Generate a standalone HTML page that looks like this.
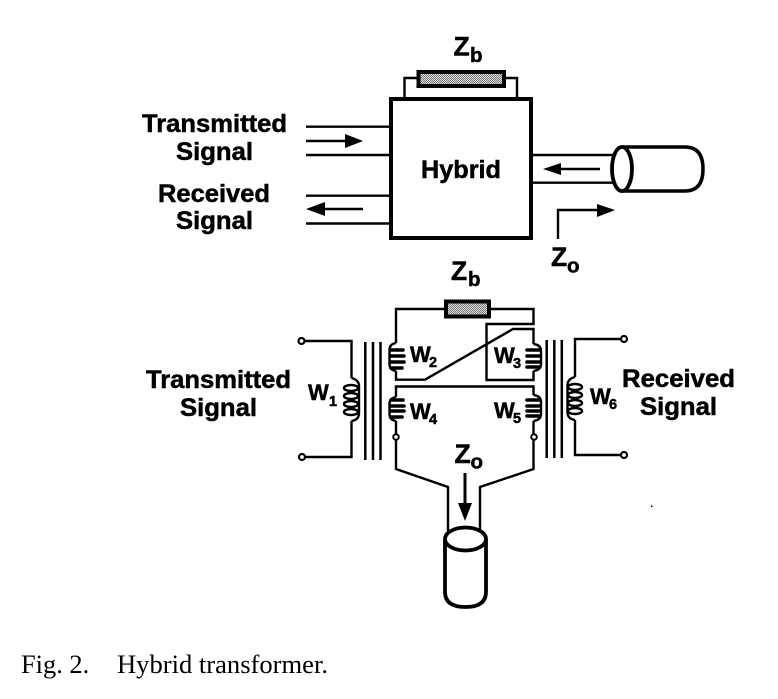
<!DOCTYPE html>
<html>
<head>
<meta charset="utf-8">
<style>
html,body{margin:0;padding:0;background:#fff;}
svg{display:block;}
.t{font-family:"Liberation Sans",sans-serif;font-weight:bold;fill:#000;stroke:#000;stroke-width:.5px;}
.l{font-size:25.3px;}
.z{font-size:26.5px;}
.s{font-size:20.5px;}
.w{font-size:22px;}
.n{font-size:14.5px;}
.c{font-family:"Liberation Serif",serif;font-size:26.4px;fill:#000;}
</style>
</head>
<body>
<svg width="778" height="699" viewBox="0 0 778 699" xmlns="http://www.w3.org/2000/svg">
<defs>
<pattern id="d" width="2" height="2" patternUnits="userSpaceOnUse"><rect width="2" height="2" fill="#ddd"/><rect width="1" height="1" fill="#777"/><rect x="1" y="1" width="1" height="1" fill="#777"/></pattern>
</defs>
<rect width="778" height="699" fill="#fff"/>
<g fill="none" stroke="#000" stroke-width="2.400">
<!-- Top hybrid -->
<rect x="391" y="99" width="140" height="139" stroke-width="4"/>
<path d="M404.500 99V78H418M504 78H517V99"/>
<rect x="418.500" y="72" width="85.500" height="14" fill="url(#d)" stroke-width="4"/>
<path d="M306 126.700H390M306 155H390M306 195.700H390M306 223.500H390"/>
<path d="M306 141H348M325 209H363"/>
<path d="M532 155H614M532 182.700H614M561 169H600"/>
<path d="M622 147H685Q703 147 703 169Q703 191 685 191H622" stroke-width="3.500"/>
<ellipse cx="622" cy="169" rx="10" ry="22" fill="#fff" stroke-width="3.800"/>
<path d="M558 239V210H600"/>
<!-- resistor lower -->
<path d="M396 343V309H446M488 309H533.500V324H486.500V380H533.500V371M533.500 344V329H513L425 379.700H396V371"/>
<rect x="446" y="301.500" width="43" height="15" fill="url(#d)" stroke-width="4"/>
<!-- W1 -->
<path d="M304 341H351.500V378M351.500 421V457H305"/>
<path d="M351.500 378Q359 380 359 386V413Q359 420 351.500 421"/>
<g stroke-width="2.500"><ellipse cx="351" cy="388" rx="7" ry="3"/><ellipse cx="351" cy="396" rx="7" ry="3"/><ellipse cx="351" cy="404" rx="7" ry="3"/><ellipse cx="351" cy="412" rx="7" ry="3"/></g>
<!-- core left/right -->
<path d="M365.300 342V460M373 342V460M380.500 342V460M546.700 340V458M554.300 340V458M561.800 340V458" stroke-width="2.500"/>
<!-- W2 arc -->
<path d="M396 343Q389.500 344 389.500 350V364Q389.500 370 396 371"/>
<g stroke-width="3.600" stroke-linecap="round"><path d="M391 350H403M391 356H404M391 362H404M391 368H402"/></g>
<!-- W3 arc -->
<path d="M533.500 344Q541 345 541 351V364Q541 370 533.500 371"/>
<g stroke-width="3.600" stroke-linecap="round"><path d="M527 350H539M527 356H539M527 362H539M527 367H539"/></g>
<!-- W4 -->
<path d="M396 397V386.500H533.500V395"/>
<path d="M396 397Q389.500 398 389.500 404V414Q389.500 420 396 421"/>
<g stroke-width="3.600" stroke-linecap="round"><path d="M391 400H403M391 406H404M391 411H404M391 417H402"/></g>
<path d="M396 421V434M396 440V469L448 487V531"/>
<!-- W5 -->
<path d="M533.500 395Q541 396 541 402V414Q541 420 533.500 421"/>
<g stroke-width="3.600" stroke-linecap="round"><path d="M527 400H539M527 406H539M527 411H539M527 416H539"/></g>
<path d="M533.500 421V434M533.500 440V469L480 487V531"/>
<circle cx="396" cy="437" r="2.800" stroke-width="2"/>
<circle cx="534" cy="437" r="2.800" stroke-width="2"/>
<!-- W6 -->
<path d="M621 339H575V377M575 420V455H621"/>
<path d="M575 377Q567.500 379 567.500 385V412Q567.500 419 575 420"/>
<g stroke-width="2.500"><ellipse cx="575" cy="387" rx="7" ry="3"/><ellipse cx="575" cy="395" rx="7" ry="3"/><ellipse cx="575" cy="403" rx="7" ry="3"/><ellipse cx="575" cy="411" rx="7" ry="3"/></g>
<circle cx="301.500" cy="341" r="3" stroke-width="2.200"/>
<circle cx="302" cy="457" r="3" stroke-width="2.200"/>
<circle cx="624" cy="339" r="3" stroke-width="2.200"/>
<circle cx="624" cy="455" r="3" stroke-width="2.200"/>
<!-- bottom cylinder -->
<path d="M445 539V592Q445 607 465.500 607Q486 607 486 592V539" stroke-width="3.800"/>
<ellipse cx="465.500" cy="539" rx="20.500" ry="11.500" fill="#fff" stroke-width="3.800"/>
<path d="M465 473V508" stroke-width="3"/>
</g>
<g fill="#000">
<path d="M363 141L345 134V148Z"/>
<path d="M306 209L325 202V216Z"/>
<path d="M543 169L561 163V175Z"/>
<path d="M615 210L597 204V217Z"/>
<path d="M465 521L458 503H472Z"/>
<rect x="651" y="505.500" width="1.500" height="1.500"/>
</g>
<g class="t">
<text class="l" x="142" y="132" textLength="145" lengthAdjust="spacingAndGlyphs">Transmitted</text>
<text class="l" x="176" y="160" textLength="77" lengthAdjust="spacingAndGlyphs">Signal</text>
<text class="l" x="158" y="202" textLength="112" lengthAdjust="spacingAndGlyphs">Received</text>
<text class="l" x="176" y="229" textLength="77" lengthAdjust="spacingAndGlyphs">Signal</text>
<text class="l" x="421" y="178" textLength="80" lengthAdjust="spacingAndGlyphs">Hybrid</text>
<text class="z" x="453.500" y="55.500">Z</text>
<text class="s" x="470" y="62">b</text>
<text class="z" x="551" y="266">Z</text>
<text class="s" x="567" y="272.500">o</text>
<text class="z" x="451" y="280">Z</text>
<text class="s" x="468" y="286">b</text>
<text class="z" x="454.500" y="463">Z</text>
<text class="s" x="470.500" y="468.500">o</text>
<text class="l" x="146" y="388" textLength="145" lengthAdjust="spacingAndGlyphs">Transmitted</text>
<text class="l" x="180" y="416" textLength="77" lengthAdjust="spacingAndGlyphs">Signal</text>
<text class="l" x="622" y="387" textLength="113" lengthAdjust="spacingAndGlyphs">Received</text>
<text class="l" x="640" y="415" textLength="77" lengthAdjust="spacingAndGlyphs">Signal</text>
<text class="w" x="308" y="400">W</text><text class="n" x="329" y="406">1</text>
<text class="w" x="410" y="362">W</text><text class="n" x="429" y="367">2</text>
<text class="w" x="410" y="419">W</text><text class="n" x="429" y="424">4</text>
<text class="w" x="494" y="363">W</text><text class="n" x="513" y="368">3</text>
<text class="w" x="494" y="418">W</text><text class="n" x="513" y="423">5</text>
<text class="w" x="590" y="404">W</text><text class="n" x="609" y="409">6</text>
</g>
<text class="c" x="21" y="673">Fig. 2.</text>
<text class="c" x="117" y="673" textLength="211" lengthAdjust="spacingAndGlyphs">Hybrid transformer.</text>
</svg>
</body>
</html>
